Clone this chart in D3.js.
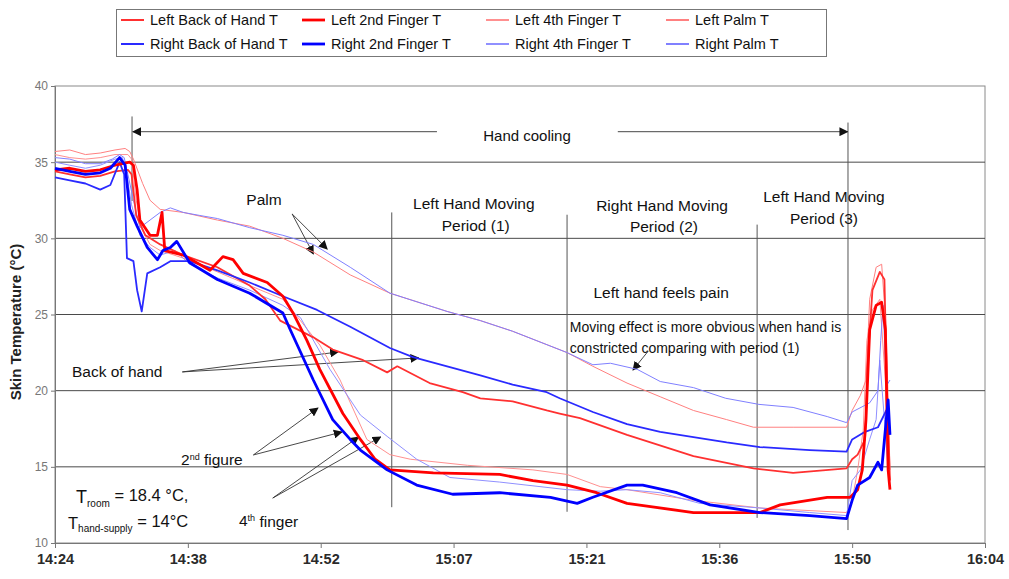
<!DOCTYPE html>
<html><head><meta charset="utf-8">
<script src="https://cdn.jsdelivr.net/npm/d3@7"></script>
<style>
body{margin:0;background:#fff;}
svg{display:block;font-family:"Liberation Sans",Arial,sans-serif;}
</style>
</head><body>
<svg id="c" width="1009" height="579"></svg>
<script>
// ---------- DATA (time in minutes after 14:24, temperature in °C) ----------
const xTickValues = [0, 14.4, 28.8, 43.2, 57.6, 72, 86.4, 100.8];
const xTickLabels = ["14:24","14:38","14:52","15:07","15:21","15:36","15:50","16:04"];
const yTickValues = [10, 15, 20, 25, 30, 35, 40];
const seriesNames = ["Left Back of Hand T","Left 2nd Finger T","Left 4th Finger T","Left Palm T",
                     "Right Back of Hand T","Right 2nd Finger T","Right 4th Finger T","Right Palm T"];

const leftBackOfHand = [[0,34.4],[1.6,34.2],[3.3,34.0],[4.9,34.1],[6.5,34.4],[7.9,34.5],[8.3,34.2],[8.8,31.5],[9.8,30.2],[11.4,29.6],[13.9,28.9],[17.6,28.1],[21.1,26.9],[22.8,26.0],[24.4,24.6],[28.0,23.5],[30.1,22.7],[33.4,22.0],[36.0,21.2],[37.1,21.6],[40.6,20.5],[44.2,19.9],[46.1,19.5],[49.6,19.3],[53.3,18.7],[54.7,18.5],[56.9,18.2],[62.0,17.1],[69.2,15.7],[75.7,14.9],[80.0,14.6],[85.8,14.9],[86.4,15.5],[87.0,15.8],[87.8,16.8],[88.1,22.0],[88.6,26.6],[89.4,27.8],[89.9,27.3],[90.2,19.4],[90.5,14.1]];
const left2ndFinger = [[0,34.5],[1.6,34.6],[3.3,34.4],[4.9,34.5],[6.5,34.8],[8.1,35.0],[8.5,34.8],[8.9,33.2],[9.2,31.2],[10.3,30.2],[11.1,30.2],[11.6,31.7],[11.9,29.2],[13.9,28.9],[16.8,27.9],[18.2,28.8],[19.3,28.6],[20.4,27.7],[23.0,27.1],[24.7,26.2],[25.8,25.1],[27.3,23.3],[28.7,21.4],[31.2,18.5],[33.1,16.8],[34.7,15.5],[36.3,14.8],[41.0,14.6],[48.2,14.5],[51.8,14.1],[55.5,13.8],[58.7,13.3],[62.0,12.6],[69.2,12.0],[76.4,12.0],[78.6,12.5],[83.7,13.0],[86.2,13.0],[87.0,13.5],[87.5,14.8],[87.9,18.1],[88.3,24.0],[89.0,25.6],[89.6,25.8],[90.0,24.0],[90.3,14.8],[90.5,13.5]];
const left4thFinger = [[0,35.5],[1.6,35.3],[3.3,35.2],[4.9,35.3],[6.5,35.5],[7.9,35.5],[8.3,35.2],[8.8,32.5],[9.4,30.6],[10.3,29.6],[11.4,29.2],[13.9,28.7],[17.6,27.8],[21.1,26.9],[24.7,26.0],[26.6,24.6],[28.7,23.0],[30.9,20.7],[33.8,16.8],[36.3,15.8],[38.5,15.5],[44.7,15.1],[51.8,14.8],[55.5,14.5],[59.1,13.7],[62.0,13.5],[69.2,12.8],[76.4,12.3],[85.8,12.0],[86.4,12.8],[87.0,14.8],[87.6,17.4],[88.0,23.3],[88.6,25.3],[89.4,26.0],[90.0,20.7],[90.4,14.8]];
const leftPalm = [[0,35.7],[1.6,35.8],[3.3,35.5],[4.9,35.6],[6.5,35.8],[7.6,35.9],[8.1,35.7],[8.5,35.2],[9.5,33.6],[10.3,32.5],[11.4,31.9],[13.9,31.7],[17.6,31.2],[21.1,30.8],[24.7,30.0],[28.0,29.1],[32.0,27.6],[36.3,26.4],[42.5,25.2],[46.1,24.6],[49.6,23.9],[55.5,22.5],[58.3,21.6],[62.0,20.5],[65.6,19.6],[69.2,18.7],[72.8,18.1],[75.7,17.6],[80.0,17.6],[85.8,17.6],[86.4,18.7],[87.3,19.7],[87.9,20.7],[88.3,26.0],[89.0,28.1],[89.6,28.3],[90.1,24.0],[90.5,14.8]];
const rightBackOfHand = [[0,34.0],[1.6,33.8],[3.3,33.6],[4.9,33.2],[6.0,33.5],[7.0,35.0],[7.5,34.2],[7.8,28.7],[8.5,28.5],[8.9,26.6],[9.4,25.2],[10.0,27.7],[11.4,28.1],[12.5,28.5],[14.6,28.5],[17.6,27.9],[21.1,27.1],[24.7,26.2],[28.4,25.3],[32.0,24.2],[36.3,22.8],[38.8,22.2],[42.5,21.6],[46.1,21.0],[49.6,20.4],[53.3,19.9],[54.7,19.5],[58.3,18.6],[62.0,17.8],[65.6,17.3],[72.8,16.6],[76.4,16.3],[81.8,16.1],[85.8,16.0],[86.4,16.8],[87.8,17.3],[89.2,17.6],[90.1,18.7],[90.4,18.1]];
const right2ndFinger = [[0,34.6],[1.6,34.4],[3.3,34.2],[4.9,34.3],[6.0,34.6],[7.0,35.3],[7.6,34.8],[8.1,31.9],[8.9,30.8],[10.0,29.4],[11.1,28.6],[11.7,29.2],[12.5,29.4],[13.2,29.8],[14.6,28.4],[17.6,27.3],[21.1,26.4],[24.7,25.1],[25.5,24.0],[28.0,20.7],[30.1,18.1],[32.0,16.8],[33.1,16.1],[36.0,14.8],[39.2,13.8],[43.1,13.2],[48.2,13.3],[53.7,13.0],[56.6,12.6],[58.3,13.0],[62.0,13.8],[63.7,13.8],[67.4,13.3],[71.0,12.5],[76.4,12.0],[81.8,11.8],[85.8,11.6],[86.4,12.8],[87.0,13.8],[88.3,14.3],[89.2,15.3],[89.6,14.8],[90.1,18.1],[90.3,19.4],[90.5,17.1]];
const right4thFinger = [[0,35.0],[1.6,34.8],[3.3,34.6],[4.9,34.8],[6.5,35.2],[7.3,35.3],[7.7,34.5],[8.3,32.2],[9.2,30.2],[10.3,29.4],[11.4,28.9],[13.0,29.2],[14.6,28.3],[17.6,27.4],[21.1,26.6],[24.7,25.6],[26.6,24.8],[29.8,21.4],[33.1,18.4],[36.0,17.0],[39.2,15.5],[42.8,14.3],[48.2,14.0],[55.5,13.5],[59.1,13.4],[62.0,13.5],[65.6,13.3],[69.9,12.6],[76.4,12.3],[81.8,12.0],[85.8,11.8],[86.4,14.1],[87.3,14.8],[88.3,16.8],[89.0,18.1],[89.4,22.0],[89.9,18.1],[90.3,14.8]];
const rightPalm = [[0,35.3],[1.6,35.2],[3.3,34.9],[4.9,34.9],[6.2,35.2],[7.0,35.5],[7.5,35.3],[7.9,34.2],[8.5,32.5],[9.2,30.7],[10.3,31.2],[11.4,31.7],[12.5,32.0],[13.9,31.7],[15.7,31.5],[17.6,31.3],[21.1,30.7],[24.7,30.2],[28.0,29.6],[32.0,28.1],[36.3,26.4],[42.5,25.2],[46.1,24.6],[49.6,23.9],[55.5,22.5],[58.3,21.7],[60.2,21.8],[63.1,21.4],[65.6,20.6],[69.2,20.2],[72.7,19.5],[76.3,19.1],[80.0,18.9],[83.7,18.3],[85.8,17.9],[86.4,18.6],[88.3,19.2],[89.2,20.0],[89.5,23.3],[89.75,25.6],[90.0,22.0],[90.2,20.4],[90.5,20.7]];

const seriesValues = [leftBackOfHand,left2ndFinger,left4thFinger,leftPalm,
                      rightBackOfHand,right2ndFinger,right4thFinger,rightPalm];

// ---------- STYLES ----------
const seriesColors = ["#ff3030","#ff0000","#ff9090","#ff8080","#2a2aff","#0000ff","#9090ff","#8080ff"];
const seriesWidths = [1.8, 2.8, 1, 1, 1.8, 2.8, 1, 1];
const drawOrder = [2,3,6,7,0,4,1,5];

// ---------- LAYOUT ----------
const svg = d3.select("#c");
const x = d3.scaleLinear().domain([0, 100.8]).range([55, 985]);
const y = d3.scaleLinear().domain([10, 40]).range([543, 86]);

svg.append("defs").append("marker")
  .attr("id","ah").attr("viewBox","0 0 10 10").attr("refX",9).attr("refY",5)
  .attr("markerWidth",9).attr("markerHeight",9).attr("markerUnits","userSpaceOnUse")
  .attr("orient","auto")
  .append("path").attr("d","M0,0 L10,5 L0,10 z").attr("fill","#111");

// plot frame
svg.append("rect").attr("x",x(0)).attr("y",y(40)).attr("width",x(100.8)-x(0)).attr("height",y(10)-y(40))
  .attr("fill","none").attr("stroke","#8a8a8a").attr("stroke-width",1);

// gridlines
svg.append("g").selectAll("line").data([15,20,25,30,35]).join("line")
  .attr("x1",x(0)).attr("x2",x(100.8)).attr("y1",d=>y(d)).attr("y2",d=>y(d))
  .attr("stroke","#4a4a4a").attr("stroke-width",1);

// axes
const gx = svg.append("g").attr("transform",`translate(0,${y(10)})`)
  .call(d3.axisBottom(x).tickValues(xTickValues).tickFormat((d,i)=>xTickLabels[i]).tickSize(5).tickPadding(6));
gx.selectAll("text").attr("font-size",14.5).attr("font-weight","bold").attr("fill","#2a2a2a").attr("font-family","Liberation Sans, Arial, sans-serif");
gx.selectAll("line").attr("stroke","#777");
gx.select(".domain").attr("stroke","#777");

const gy = svg.append("g").attr("transform",`translate(${x(0)},0)`)
  .call(d3.axisLeft(y).tickValues(yTickValues).tickSize(4).tickPadding(3));
gy.selectAll("text").attr("font-size",12).attr("fill","#777").attr("font-family","Liberation Sans, Arial, sans-serif");
gy.selectAll("line").attr("stroke","#777");
gy.select(".domain").attr("stroke","#777");

svg.append("text").attr("transform","translate(21,322) rotate(-90)")
  .attr("text-anchor","middle").attr("font-size",15).attr("font-weight","bold").attr("fill","#222")
  .text("Skin Temperature (°C)");

// ---------- ANNOTATIONS (data units) ----------
const ann = svg.append("g");
const vLines = [
  {t:8.35, top:38.0, bottom:32.45},
  {t:85.95, top:37.6, bottom:10.85},
  {t:36.5, top:31.7, bottom:12.35},
  {t:55.5, top:31.55, bottom:12.05},
  {t:76.1, top:30.9, bottom:11.65}
];
ann.selectAll("line.v").data(vLines).join("line").attr("class","v")
  .attr("x1",d=>x(d.t)).attr("x2",d=>x(d.t)).attr("y1",d=>y(d.top)).attr("y2",d=>y(d.bottom))
  .attr("stroke","#555").attr("stroke-width",1);

// series lines
const line = d3.line().x(d=>x(d[0])).y(d=>y(d[1]));
svg.append("g").selectAll("path").data(drawOrder).join("path")
  .attr("d",i=>line(seriesValues[i])).attr("fill","none")
  .attr("stroke",i=>seriesColors[i]).attr("stroke-width",i=>seriesWidths[i])
  .attr("stroke-linejoin","round");

const arrows = [
  {from:[41.4,37.0], to:[8.45,37.0]},
  {from:[61.0,37.0], to:[85.9,37.0]},
  {from:[25.7,31.6], to:[28.0,28.98]},
  {from:[25.7,31.6], to:[29.5,29.3]},
  {from:[64.3,22.6], to:[62.65,21.36]},
  {from:[13.8,21.23], to:[30.7,22.54]},
  {from:[13.8,21.23], to:[39.4,22.15]},
  {from:[21.5,15.78], to:[28.5,18.86]},
  {from:[21.5,15.78], to:[31.1,17.29]},
  {from:[23.6,12.95], to:[32.9,16.96]},
  {from:[23.6,12.95], to:[35.3,16.96]}
];
ann.selectAll("line.a").data(arrows).join("line").attr("class","a")
  .attr("x1",d=>x(d.from[0])).attr("y1",d=>y(d.from[1]))
  .attr("x2",d=>x(d.to[0])).attr("y2",d=>y(d.to[1]))
  .attr("stroke","#333").attr("stroke-width",0.9).attr("marker-end","url(#ah)");

const texts = [
  {t:51.16, v:36.72, s:"Hand cooling", a:"middle", f:15},
  {t:22.65, v:32.52, s:"Palm", a:"middle", f:15.5},
  {t:45.4, v:32.26, s:"Left Hand Moving", a:"middle", f:15.5},
  {t:45.6, v:30.81, s:"Period  (1)", a:"middle", f:15.5},
  {t:65.8, v:32.13, s:"Right Hand Moving", a:"middle", f:15.5},
  {t:66.0, v:30.75, s:"Period  (2)", a:"middle", f:15.5},
  {t:83.35, v:32.72, s:"Left Hand Moving", a:"middle", f:15.5},
  {t:83.35, v:31.27, s:"Period (3)", a:"middle", f:15.5},
  {t:65.7, v:26.41, s:"Left hand feels pain", a:"middle", f:15.5},
  {t:55.8, v:24.18, s:"Moving effect is more obvious when hand is", a:"start", f:14},
  {t:55.8, v:22.80, s:"constricted comparing with period (1)", a:"start", f:14},
  {t:1.84, v:21.23, s:"Back of hand", a:"start", f:15.5}
];
ann.selectAll("text.t").data(texts).join("text").attr("class","t")
  .attr("x",d=>x(d.t)).attr("y",d=>y(d.v)).attr("dy","0.35em")
  .attr("text-anchor",d=>d.a).attr("font-size",d=>d.f).attr("fill","#111").text(d=>d.s);

const t2 = ann.append("text").attr("x",x(13.66)).attr("y",y(15.45)).attr("dy","0.35em").attr("font-size",15.5).attr("fill","#111");
t2.append("tspan").text("2");
t2.append("tspan").attr("font-size",9).attr("dy","-0.6em").text("nd");
t2.append("tspan").attr("dy","0.35em").text(" figure");
const t4 = ann.append("text").attr("x",x(19.94)).attr("y",y(11.44)).attr("dy","0.35em").attr("font-size",15.5).attr("fill","#111");
t4.append("tspan").text("4");
t4.append("tspan").attr("font-size",9).attr("dy","-0.6em").text("th");
t4.append("tspan").attr("dy","0.35em").text(" finger");

const tr = ann.append("text").attr("x",x(2.28)).attr("y",y(13.02)).attr("dy","0.35em").attr("font-size",18).attr("fill","#111");
tr.append("tspan").text("T");
tr.append("tspan").attr("font-size",10).attr("dy","0.35em").text("room");
tr.append("tspan").attr("font-size",16.5).attr("dy","-0.35em").text(" = 18.4 °C,");
const th = ann.append("text").attr("x",x(1.41)).attr("y",y(11.31)).attr("dy","0.35em").attr("font-size",16.5).attr("fill","#111");
th.append("tspan").text("T");
th.append("tspan").attr("font-size",10).attr("dy","0.35em").text("hand-supply");
th.append("tspan").attr("font-size",16.5).attr("dy","-0.35em").text(" = 14°C");

// ---------- LEGEND ----------
const lg = svg.append("g");
lg.append("rect").attr("x",116.5).attr("y",9.5).attr("width",710).attr("height",47)
  .attr("fill","#fff").attr("stroke","#777").attr("stroke-width",1);
const colX = [121, 302, 486, 666];
const rowY = [20, 44];
const items = lg.selectAll("g.it").data(seriesNames).join("g").attr("class","it")
  .attr("transform",(d,i)=>`translate(${colX[i%4]},${rowY[Math.floor(i/4)]})`);
items.append("line").attr("x1",0).attr("x2",23).attr("y1",0).attr("y2",0)
  .attr("stroke",(d,i)=>seriesColors[i]).attr("stroke-width",(d,i)=>Math.max(2,seriesWidths[i]));
items.append("text").attr("x",29).attr("dy","0.35em").attr("font-size",14.5).attr("fill","#111").text(d=>d);
</script>
</body></html>
